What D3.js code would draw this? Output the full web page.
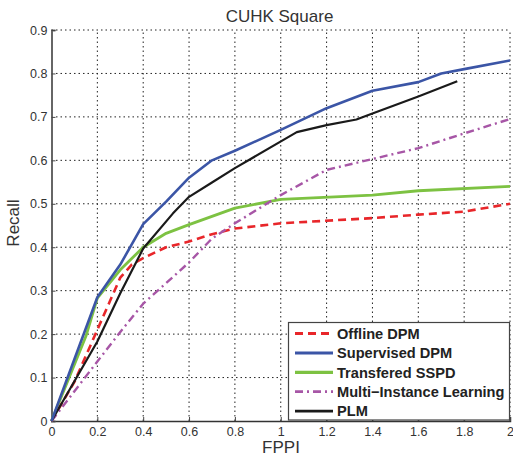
<!DOCTYPE html>
<html><head><meta charset="utf-8">
<script src="https://cdn.jsdelivr.net/npm/d3@7"></script>
<style>body{margin:0;background:#fff}svg{display:block}</style>
</head><body><div id="chart"></div>
<script>
const xTicks = [0,0.2,0.4,0.6,0.8,1,1.2,1.4,1.6,1.8,2];
const yTicks = [0,0.1,0.2,0.3,0.4,0.5,0.6,0.7,0.8,0.9];
const seriesNames = ["Offline DPM","Supervised DPM","Transfered SSPD","Multi\u2212Instance Learning","PLM"];
const offlineDPM = [[0,0],[0.1,0.09],[0.2,0.21],[0.25,0.27],[0.3,0.33],[0.35,0.36],[0.4,0.375],[0.5,0.4],[0.6,0.413],[0.7,0.43],[0.8,0.443],[1.0,0.455],[1.4,0.467],[1.6,0.475],[1.8,0.482],[2,0.5]];
const supervisedDPM = [[0,0],[0.2,0.285],[0.3,0.36],[0.4,0.453],[0.5,0.505],[0.6,0.56],[0.7,0.6],[0.8,0.622],[1.0,0.67],[1.2,0.72],[1.4,0.76],[1.6,0.78],[1.7,0.8],[1.8,0.81],[2,0.83]];
const transferedSSPD = [[0,0],[0.15,0.195],[0.2,0.283],[0.3,0.348],[0.4,0.4],[0.5,0.432],[0.6,0.452],[0.8,0.49],[1.0,0.51],[1.4,0.52],[1.6,0.53],[2,0.54]];
const multiInstance = [[0,0],[0.2,0.137],[0.3,0.205],[0.4,0.27],[0.6,0.365],[0.7,0.42],[0.8,0.455],[1.0,0.52],[1.2,0.578],[1.4,0.603],[1.6,0.628],[1.8,0.662],[2,0.695]];
const plm = [[0,0],[0.2,0.183],[0.3,0.294],[0.4,0.397],[0.53,0.478],[0.6,0.516],[0.7,0.549],[0.8,0.582],[1.07,0.665],[1.2,0.681],[1.33,0.694],[1.4,0.708],[1.6,0.747],[1.77,0.782]];

const W=513,H=457;
const m={left:51.5,right:3,top:30,bottom:36};
const FONT="Liberation Sans, Arial, sans-serif";
const svg=d3.select("#chart").append("svg").attr("width",W).attr("height",H);
const x=d3.scaleLinear().domain([0,2]).range([m.left,W-m.right]);
const y=d3.scaleLinear().domain([0,0.9]).range([H-m.bottom,m.top]);

// grid
const g=svg.append("g");
g.selectAll(".vg").data(xTicks.slice(1)).join("line")
 .attr("x1",d=>x(d)).attr("x2",d=>x(d)).attr("y1",y(0)).attr("y2",y(0.9))
 .attr("stroke","#222").attr("stroke-width",1).attr("stroke-dasharray","1.5,3");
g.selectAll(".hg").data(yTicks.slice(1)).join("line")
 .attr("y1",d=>y(d)).attr("y2",d=>y(d)).attr("x1",x(0)).attr("x2",x(2))
 .attr("stroke","#222").attr("stroke-width",1).attr("stroke-dasharray","1.5,3");

// axes
const xa=svg.append("g").attr("transform",`translate(0,${y(0)})`)
 .call(d3.axisBottom(x).tickValues(xTicks).tickSize(-4).tickPadding(6).tickFormat(d3.format("~g")));
const ya=svg.append("g").attr("transform",`translate(${x(0)},0)`)
 .call(d3.axisLeft(y).tickValues(yTicks).tickSize(-4).tickPadding(4).tickFormat(d3.format("~g")));
[xa,ya].forEach(a=>{
 a.selectAll("text").attr("font-family",FONT).attr("font-size",12.5).attr("fill","#333");
 a.selectAll("line").attr("stroke","#444");
});
xa.select(".domain").attr("stroke","#333").attr("stroke-width",1.5);
ya.select(".domain").attr("stroke","#666").attr("stroke-width",2);

// lines
const line=d3.line().x(d=>x(d[0])).y(d=>y(d[1]));
const styles=[
 {data:offlineDPM,color:"#e8262a",w:2.6,dash:"8,5"},
 {data:supervisedDPM,color:"#3b55a6",w:2.6,dash:null},
 {data:transferedSSPD,color:"#7dc242",w:2.8,dash:null},
 {data:multiInstance,color:"#a756a6",w:2.4,dash:"8,4,2,4"},
 {data:plm,color:"#1a1a1a",w:2.2,dash:null}
];
const drawOrder=[2,0,3,4,1];
drawOrder.forEach(i=>{
 const s=styles[i];
 svg.append("path").datum(s.data).attr("d",line).attr("fill","none")
  .attr("stroke",s.color).attr("stroke-width",s.w)
  .attr("stroke-dasharray",s.dash).attr("stroke-linejoin","round");
});

// legend
const lg=svg.append("g");
lg.append("rect").attr("x",288.5).attr("y",322.5).attr("width",221).attr("height",97.5)
 .attr("fill","#fff").attr("stroke","#444").attr("stroke-width",1.2);
seriesNames.forEach((n,i)=>{
 const yy=333.5+i*19.4;
 lg.append("line").attr("x1",295).attr("x2",333).attr("y1",yy).attr("y2",yy)
  .attr("stroke",styles[i].color).attr("stroke-width",styles[i].w+0.4).attr("stroke-dasharray",styles[i].dash);
 lg.append("text").attr("x",337).attr("y",yy).attr("dy","0.36em")
  .attr("font-family",FONT).attr("font-weight","bold")
  .attr("font-size",14.6).attr("fill","#222").text(n);
});

// titles
svg.append("text").attr("x",279.5).attr("y",22).attr("text-anchor","middle")
 .attr("font-family",FONT).attr("font-size",17).attr("fill","#333").text("CUHK Square");
svg.append("text").attr("x",281).attr("y",453).attr("text-anchor","middle")
 .attr("font-family",FONT).attr("font-size",17).attr("fill","#333").text("FPPI");
svg.append("text").attr("transform","translate(19,223) rotate(-90)").attr("text-anchor","middle")
 .attr("font-family",FONT).attr("font-size",17).attr("fill","#333").text("Recall");
</script></body></html>
